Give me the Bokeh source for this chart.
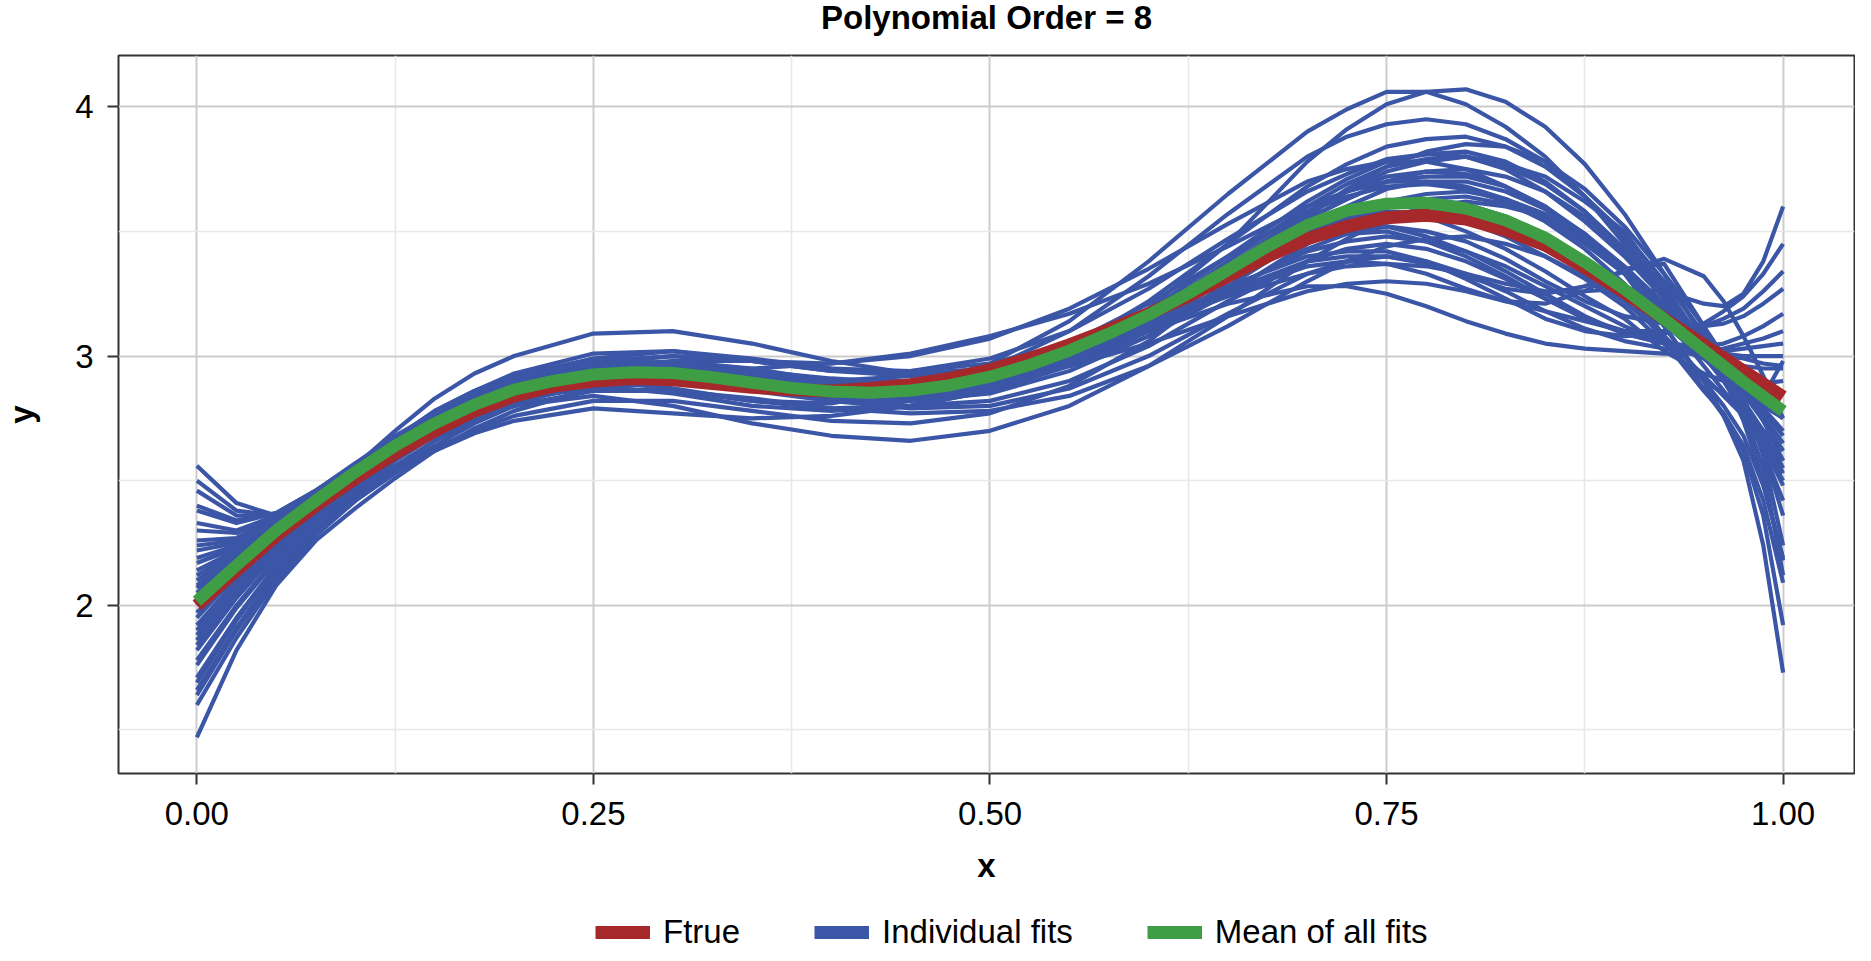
from bokeh.plotting import figure
from bokeh.layouts import column
from bokeh.core.properties import value
from bokeh.models import FixedTicker, Legend, LegendItem, Range1d, NumeralTickFormatter
from bokeh.embed import file_html
from bokeh.resources import INLINE

# ---------------- data ----------------
TITLE = "Polynomial Order = 8"

X_FINE = [0.000, 0.025, 0.050, 0.075, 0.100, 0.125, 0.150, 0.175, 0.200, 0.225,
          0.250, 0.275, 0.300, 0.325, 0.350, 0.375, 0.400, 0.425, 0.450, 0.475,
          0.500, 0.525, 0.550, 0.575, 0.600, 0.625, 0.650, 0.675, 0.700, 0.725,
          0.750, 0.775, 0.800, 0.825, 0.850, 0.875, 0.900, 0.925, 0.950, 0.975, 1.000]

F_TRUE = [2.000, 2.140, 2.280, 2.400, 2.510, 2.610, 2.700, 2.780, 2.840, 2.880,
          2.900, 2.910, 2.905, 2.890, 2.875, 2.865, 2.860, 2.870, 2.885, 2.910,
          2.945, 2.990, 3.045, 3.105, 3.170, 3.240, 3.320, 3.400, 3.470, 3.520,
          3.555, 3.565, 3.550, 3.505, 3.445, 3.355, 3.255, 3.150, 3.045, 2.940, 2.836]

MEAN_FIT = [2.016, 2.160, 2.300, 2.420, 2.535, 2.640, 2.730, 2.805, 2.865, 2.900,
            2.926, 2.935, 2.932, 2.915, 2.893, 2.872, 2.858, 2.853, 2.862, 2.883,
            2.917, 2.964, 3.022, 3.090, 3.165, 3.251, 3.345, 3.440, 3.525, 3.583,
            3.611, 3.615, 3.592, 3.545, 3.475, 3.377, 3.268, 3.148, 3.022, 2.897, 2.779]

X_FIT = [0.0, 0.025, 0.05, 0.075, 0.1, 0.125, 0.15, 0.175, 0.2, 0.25, 0.3, 0.35,
         0.4, 0.45, 0.5, 0.55, 0.6, 0.65, 0.7, 0.725, 0.75, 0.775, 0.8, 0.825,
         0.85, 0.875, 0.9, 0.925, 0.95, 0.9625, 0.975, 0.9875, 1.0]

FITS = [
    [2.05, 2.18, 2.30, 2.42, 2.53, 2.65, 2.75, 2.82, 2.86, 2.90, 2.87, 2.82, 2.81, 2.87, 2.97, 3.14, 3.38, 3.65, 3.90, 3.99, 4.06, 4.06, 4.01, 3.92, 3.80, 3.64, 3.45, 3.24, 3.02, 2.90, 2.77, 2.64, 2.50],
    [2.26, 2.27, 2.35, 2.45, 2.56, 2.64, 2.71, 2.77, 2.82, 2.88, 2.89, 2.89, 2.90, 2.92, 2.95, 3.02, 3.19, 3.45, 3.78, 3.91, 4.01, 4.06, 4.07, 4.02, 3.92, 3.77, 3.57, 3.33, 3.07, 2.92, 2.74, 2.50, 2.18],
    [2.50, 2.38, 2.36, 2.44, 2.54, 2.67, 2.78, 2.86, 2.92, 2.99, 2.97, 2.91, 2.86, 2.87, 2.95, 3.10, 3.32, 3.57, 3.80, 3.88, 3.93, 3.95, 3.93, 3.87, 3.78, 3.64, 3.47, 3.26, 3.03, 2.92, 2.80, 2.67, 2.53],
    [1.60, 1.87, 2.10, 2.28, 2.42, 2.54, 2.64, 2.73, 2.80, 2.92, 2.98, 2.98, 2.95, 2.93, 2.95, 3.02, 3.12, 3.24, 3.33, 3.36, 3.37, 3.36, 3.33, 3.29, 3.26, 3.26, 3.27, 3.26, 3.21, 3.20, 3.25, 3.38, 3.60],
    [2.17, 2.23, 2.33, 2.44, 2.55, 2.65, 2.74, 2.80, 2.85, 2.88, 2.85, 2.80, 2.78, 2.80, 2.86, 2.96, 3.10, 3.26, 3.38, 3.40, 3.40, 3.37, 3.32, 3.27, 3.25, 3.28, 3.34, 3.39, 3.32, 3.22, 3.08, 2.92, 2.75],
    [1.92, 2.10, 2.26, 2.39, 2.50, 2.61, 2.70, 2.78, 2.84, 2.91, 2.92, 2.88, 2.84, 2.84, 2.88, 2.97, 3.10, 3.25, 3.36, 3.38, 3.37, 3.33, 3.27, 3.22, 3.21, 3.26, 3.35, 3.37, 3.12, 2.94, 2.82, 2.84, 2.98],
    [2.00, 2.15, 2.29, 2.42, 2.56, 2.70, 2.83, 2.93, 3.00, 3.09, 3.10, 3.05, 2.98, 2.93, 2.92, 2.96, 3.05, 3.16, 3.26, 3.29, 3.30, 3.29, 3.26, 3.22, 3.18, 3.14, 3.10, 3.06, 3.02, 3.00, 2.99, 2.97, 2.96],
    [1.82, 2.03, 2.21, 2.36, 2.48, 2.59, 2.68, 2.75, 2.80, 2.84, 2.80, 2.73, 2.68, 2.66, 2.70, 2.80, 2.96, 3.16, 3.38, 3.47, 3.55, 3.60, 3.62, 3.60, 3.56, 3.47, 3.35, 3.19, 3.00, 2.90, 2.80, 2.70, 2.62],
    [1.69, 1.94, 2.15, 2.31, 2.44, 2.54, 2.62, 2.69, 2.74, 2.79, 2.77, 2.75, 2.76, 2.80, 2.88, 3.00, 3.16, 3.35, 3.55, 3.63, 3.70, 3.74, 3.75, 3.72, 3.66, 3.56, 3.42, 3.25, 3.06, 2.96, 2.86, 2.76, 2.65],
    [2.40, 2.34, 2.37, 2.46, 2.56, 2.67, 2.76, 2.83, 2.89, 2.95, 2.95, 2.91, 2.87, 2.86, 2.89, 2.97, 3.10, 3.28, 3.48, 3.56, 3.62, 3.65, 3.66, 3.63, 3.57, 3.47, 3.34, 3.12, 2.90, 2.76, 2.58, 2.24, 1.73],
    [2.10, 2.20, 2.31, 2.42, 2.53, 2.63, 2.72, 2.79, 2.84, 2.90, 2.91, 2.88, 2.86, 2.88, 2.94, 3.05, 3.21, 3.40, 3.58, 3.64, 3.68, 3.69, 3.67, 3.62, 3.54, 3.43, 3.29, 3.08, 2.87, 2.76, 2.62, 2.36, 1.92],
    [1.86, 2.06, 2.23, 2.37, 2.49, 2.60, 2.70, 2.78, 2.84, 2.92, 2.94, 2.92, 2.90, 2.90, 2.93, 3.02, 3.16, 3.34, 3.52, 3.58, 3.62, 3.63, 3.61, 3.56, 3.49, 3.39, 3.26, 3.06, 2.86, 2.77, 2.64, 2.42, 2.09],
    [2.56, 2.41, 2.36, 2.42, 2.52, 2.63, 2.73, 2.81, 2.87, 2.95, 2.97, 2.94, 2.89, 2.87, 2.90, 2.99, 3.15, 3.36, 3.58, 3.66, 3.72, 3.74, 3.73, 3.68, 3.60, 3.48, 3.33, 3.12, 2.90, 2.80, 2.68, 2.48, 2.19],
    [1.76, 1.99, 2.18, 2.34, 2.46, 2.58, 2.68, 2.76, 2.83, 2.92, 2.95, 2.94, 2.91, 2.89, 2.90, 2.96, 3.08, 3.25, 3.45, 3.53, 3.60, 3.63, 3.64, 3.61, 3.55, 3.46, 3.34, 3.18, 3.00, 2.90, 2.78, 2.62, 2.42],
    [1.97, 2.13, 2.28, 2.40, 2.51, 2.62, 2.72, 2.80, 2.87, 2.95, 2.97, 2.93, 2.88, 2.86, 2.89, 2.98, 3.14, 3.34, 3.55, 3.63, 3.70, 3.72, 3.72, 3.68, 3.60, 3.49, 3.34, 3.16, 2.96, 2.86, 2.76, 2.64, 2.48],
    [2.33, 2.30, 2.36, 2.46, 2.57, 2.67, 2.76, 2.83, 2.88, 2.93, 2.92, 2.87, 2.83, 2.83, 2.88, 2.99, 3.16, 3.38, 3.60, 3.69, 3.76, 3.79, 3.80, 3.76, 3.69, 3.58, 3.43, 3.25, 3.04, 2.93, 2.82, 2.70, 2.55],
    [2.14, 2.22, 2.32, 2.43, 2.54, 2.65, 2.74, 2.82, 2.88, 2.96, 2.98, 2.95, 2.90, 2.88, 2.90, 2.98, 3.12, 3.31, 3.52, 3.60, 3.67, 3.70, 3.70, 3.66, 3.59, 3.49, 3.36, 3.21, 3.04, 2.95, 2.85, 2.74, 2.62],
    [1.64, 1.90, 2.12, 2.29, 2.43, 2.55, 2.66, 2.75, 2.82, 2.91, 2.93, 2.90, 2.86, 2.85, 2.89, 3.00, 3.18, 3.40, 3.62, 3.71, 3.78, 3.81, 3.82, 3.78, 3.70, 3.58, 3.42, 3.24, 3.05, 2.96, 2.87, 2.78, 2.68],
    [2.22, 2.25, 2.34, 2.44, 2.55, 2.65, 2.73, 2.80, 2.85, 2.91, 2.91, 2.87, 2.84, 2.85, 2.90, 3.00, 3.15, 3.33, 3.50, 3.56, 3.60, 3.60, 3.58, 3.53, 3.46, 3.37, 3.26, 3.13, 2.99, 2.92, 2.86, 2.80, 2.75],
    [2.46, 2.36, 2.36, 2.45, 2.55, 2.66, 2.76, 2.84, 2.90, 2.97, 2.97, 2.92, 2.87, 2.85, 2.88, 2.97, 3.12, 3.31, 3.49, 3.55, 3.58, 3.57, 3.54, 3.48, 3.40, 3.31, 3.20, 3.05, 2.90, 2.85, 2.82, 2.80, 2.80],
    [2.07, 2.19, 2.31, 2.43, 2.55, 2.67, 2.78, 2.86, 2.93, 3.01, 3.02, 2.98, 2.94, 2.94, 2.99, 3.10, 3.27, 3.47, 3.66, 3.73, 3.79, 3.81, 3.80, 3.75, 3.66, 3.54, 3.40, 3.23, 3.06, 2.99, 2.93, 2.88, 2.85],
    [1.95, 2.12, 2.27, 2.40, 2.52, 2.64, 2.74, 2.83, 2.90, 2.99, 3.02, 2.99, 2.95, 2.94, 2.97, 3.05, 3.18, 3.36, 3.52, 3.56, 3.58, 3.56, 3.50, 3.43, 3.34, 3.24, 3.15, 3.02, 2.93, 2.90, 2.89, 2.89, 2.90],
    [2.19, 2.24, 2.33, 2.43, 2.54, 2.64, 2.73, 2.81, 2.87, 2.94, 2.95, 2.92, 2.88, 2.87, 2.90, 2.98, 3.11, 3.27, 3.42, 3.46, 3.48, 3.46, 3.42, 3.36, 3.28, 3.20, 3.12, 3.05, 2.99, 2.97, 2.96, 2.95, 2.95],
    [1.88, 2.07, 2.24, 2.38, 2.50, 2.62, 2.72, 2.81, 2.88, 2.97, 3.00, 2.98, 2.94, 2.92, 2.94, 3.00, 3.10, 3.21, 3.28, 3.28, 3.25, 3.20, 3.14, 3.09, 3.05, 3.03, 3.02, 3.01, 3.01, 3.01, 3.00, 3.00, 3.00],
    [2.12, 2.21, 2.32, 2.43, 2.54, 2.65, 2.74, 2.81, 2.87, 2.93, 2.93, 2.88, 2.83, 2.80, 2.82, 2.90, 3.04, 3.22, 3.38, 3.43, 3.45, 3.43, 3.38, 3.31, 3.23, 3.15, 3.09, 3.05, 3.02, 3.02, 3.03, 3.04, 3.05],
    [1.78, 2.00, 2.19, 2.35, 2.47, 2.59, 2.69, 2.77, 2.84, 2.91, 2.92, 2.87, 2.82, 2.79, 2.80, 2.87, 3.00, 3.17, 3.33, 3.38, 3.40, 3.38, 3.33, 3.26, 3.18, 3.11, 3.06, 3.03, 3.02, 3.03, 3.05, 3.07, 3.10],
    [2.38, 2.33, 2.37, 2.46, 2.56, 2.66, 2.75, 2.82, 2.87, 2.92, 2.91, 2.86, 2.82, 2.82, 2.87, 2.98, 3.14, 3.33, 3.48, 3.51, 3.52, 3.48, 3.42, 3.34, 3.25, 3.16, 3.09, 3.05, 3.04, 3.05, 3.08, 3.12, 3.17],
    [1.47, 1.82, 2.08, 2.26, 2.39, 2.51, 2.62, 2.71, 2.78, 2.87, 2.90, 2.88, 2.84, 2.82, 2.85, 2.94, 3.08, 3.26, 3.43, 3.49, 3.52, 3.50, 3.46, 3.39, 3.30, 3.22, 3.16, 3.13, 3.12, 3.13, 3.16, 3.21, 3.27],
    [2.24, 2.26, 2.34, 2.44, 2.54, 2.64, 2.72, 2.78, 2.83, 2.87, 2.86, 2.82, 2.79, 2.80, 2.86, 2.97, 3.13, 3.31, 3.46, 3.49, 3.50, 3.46, 3.40, 3.32, 3.23, 3.15, 3.10, 3.10, 3.12, 3.15, 3.19, 3.26, 3.34],
    [1.71, 1.95, 2.16, 2.32, 2.45, 2.56, 2.66, 2.74, 2.81, 2.89, 2.91, 2.89, 2.86, 2.86, 2.90, 2.99, 3.12, 3.28, 3.40, 3.42, 3.42, 3.38, 3.31, 3.23, 3.15, 3.10, 3.08, 3.09, 3.13, 3.18, 3.24, 3.33, 3.45],
    [1.66, 1.91, 2.13, 2.29, 2.42, 2.53, 2.63, 2.70, 2.76, 2.82, 2.82, 2.78, 2.74, 2.73, 2.77, 2.88, 3.06, 3.30, 3.56, 3.67, 3.76, 3.82, 3.85, 3.84, 3.78, 3.67, 3.52, 3.33, 3.12, 3.00, 2.88, 2.74, 2.58],
    [2.30, 2.29, 2.36, 2.46, 2.57, 2.68, 2.77, 2.85, 2.91, 2.98, 3.00, 2.98, 2.97, 3.00, 3.07, 3.19, 3.35, 3.53, 3.70, 3.75, 3.78, 3.78, 3.75, 3.68, 3.59, 3.48, 3.34, 3.19, 3.04, 2.96, 2.88, 2.79, 2.70],
    [2.08, 2.19, 2.31, 2.42, 2.53, 2.64, 2.73, 2.80, 2.86, 2.93, 2.95, 2.95, 2.97, 3.01, 3.08, 3.17, 3.29, 3.44, 3.60, 3.66, 3.70, 3.70, 3.68, 3.63, 3.55, 3.45, 3.33, 3.18, 3.02, 2.93, 2.82, 2.62, 2.36],
    [1.90, 2.09, 2.25, 2.38, 2.49, 2.59, 2.68, 2.75, 2.80, 2.86, 2.86, 2.83, 2.79, 2.77, 2.78, 2.84, 2.96, 3.12, 3.30, 3.38, 3.44, 3.47, 3.48, 3.45, 3.40, 3.32, 3.22, 3.08, 2.92, 2.84, 2.76, 2.67, 2.58],
    [2.02, 2.16, 2.29, 2.41, 2.52, 2.63, 2.72, 2.80, 2.86, 2.93, 2.93, 2.88, 2.84, 2.85, 2.91, 3.03, 3.22, 3.45, 3.68, 3.77, 3.84, 3.87, 3.88, 3.84, 3.76, 3.64, 3.49, 3.30, 3.09, 2.98, 2.84, 2.60, 2.24],
    [1.84, 2.04, 2.22, 2.37, 2.49, 2.61, 2.71, 2.79, 2.86, 2.94, 2.96, 2.93, 2.89, 2.88, 2.91, 3.00, 3.15, 3.35, 3.57, 3.66, 3.74, 3.78, 3.80, 3.77, 3.72, 3.62, 3.50, 3.28, 3.05, 2.93, 2.78, 2.55, 2.12],
]

X_TICKS = [0.0, 0.25, 0.5, 0.75, 1.0]
X_MINOR = [0.125, 0.375, 0.625, 0.875]
Y_TICKS = [2, 3, 4]
Y_MINOR = [1.5, 2.5, 3.5]
LEGEND_LABELS = ["Ftrue", "Individual fits", "Mean of all fits"]

RED = "#A6282A"
BLUE = "#3B56A6"
GREEN = "#3F9E45"
FONT = "Liberation Sans"
FS = "33px"


def strip(height):
    f = figure(width=1855, height=height, output_backend="svg", toolbar_location=None,
               x_range=Range1d(0, 1), y_range=Range1d(0, height), min_border=0)
    f.outline_line_color = None
    f.axis.visible = False
    f.grid.visible = False
    f.background_fill_color = "white"
    f.border_fill_color = "white"
    return f


# ---------------- title strip ----------------
t = strip(54)
t.text(x=[0.5], y=[37], text=[TITLE], text_font=value(FONT), text_font_size=FS,
       text_font_style="bold", text_color="#000000", text_align="center",
       text_baseline="middle")

# ---------------- main figure ----------------
p = figure(width=1855, height=842, output_backend="svg", toolbar_location=None,
           x_range=Range1d(-0.0494, 1.045), y_range=Range1d(1.3252, 4.2057),
           min_border_left=105, min_border_right=1, min_border_top=1,
           min_border_bottom=123)

p.background_fill_color = "white"
p.border_fill_color = "white"
p.outline_line_color = "#333333"
p.outline_line_width = 2

for ax in (p.xaxis[0], p.yaxis[0]):
    ax.axis_line_color = None
    ax.major_tick_line_color = "#333333"
    ax.major_tick_line_width = 2
    ax.major_tick_out = 11
    ax.major_tick_in = 0
    ax.minor_tick_line_color = None
    ax.major_label_text_font = FONT
    ax.major_label_text_font_size = FS
    ax.major_label_text_color = "#000000"
    ax.axis_label_text_font = FONT
    ax.axis_label_text_font_size = FS
    ax.axis_label_text_font_style = "bold"
    ax.axis_label_text_color = "#000000"

p.xaxis.ticker = FixedTicker(ticks=X_TICKS, minor_ticks=X_MINOR)
p.yaxis.ticker = FixedTicker(ticks=Y_TICKS, minor_ticks=Y_MINOR)
p.xaxis.formatter = NumeralTickFormatter(format="0.00")
p.xaxis.axis_label = "x"
p.yaxis.axis_label = "y"
p.xaxis.major_label_standoff = 17
p.yaxis.major_label_standoff = 14
p.xaxis.axis_label_standoff = 19
p.yaxis.axis_label_standoff = 32

for g in (p.xgrid[0], p.ygrid[0]):
    g.grid_line_color = "#cccccc"
    g.grid_line_width = 2
    g.minor_grid_line_color = "#e8e8e8"
    g.minor_grid_line_width = 1.6

p.multi_line(xs=[X_FIT] * len(FITS), ys=FITS, line_color=BLUE, line_width=4.2,
             line_join="round")
p.line(X_FINE, F_TRUE, line_color=RED, line_width=13, line_join="round")
p.line(X_FINE, MEAN_FIT, line_color=GREEN, line_width=12, line_join="round")

# ---------------- legend strip ----------------
q = strip(56)
# single-point lines draw no segment: they only provide the legend keys
k1 = q.line(X_FINE[:1], F_TRUE[:1], line_color=RED, line_width=13)
k2 = q.line(X_FINE[:1], MEAN_FIT[:1], line_color=BLUE, line_width=13)
k3 = q.line(X_FINE[:1], MEAN_FIT[:1], line_color=GREEN, line_width=13)

legend = Legend(items=[LegendItem(label=LEGEND_LABELS[0], renderers=[k1]),
                       LegendItem(label=LEGEND_LABELS[1], renderers=[k2]),
                       LegendItem(label=LEGEND_LABELS[2], renderers=[k3])],
                orientation="horizontal", location=(477, 1),
                label_text_font=FONT, label_text_font_size=FS,
                label_text_color="#000000",
                glyph_width=55, glyph_height=20, label_standoff=13,
                spacing=74, padding=0, margin=0,
                border_line_color=None, background_fill_color=None)
q.add_layout(legend, "center")

layout = column(t, p, q, spacing=0)
open("out.html", "w").write(file_html(layout, INLINE))
